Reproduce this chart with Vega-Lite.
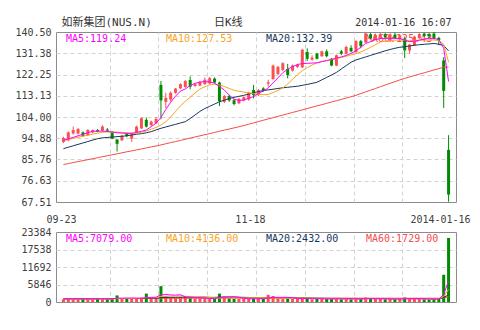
{
  "$schema": "https://vega.github.io/schema/vega-lite/v6.json",
  "background": "white",
  "padding": {"left": 14, "top": 15, "right": 5, "bottom": 5},
  "bounds": "flush",
  "spacing": 30,
  "config": {
    "view": {"stroke": "#8c8c8c", "strokeWidth": 1},
    "axis": {"domain": false, "ticks": false, "title": null, "labelFont": "DejaVu Sans Mono, Noto Sans CJK SC", "labelFontSize": 10, "labelColor": "#404040", "gridColor": "#d2d2d2", "gridDash": [4, 3], "labelOverlap": false, "labelBound": false},
    "text": {"font": "DejaVu Sans Mono"}
  },
  "resolve": {"scale": {"x": "independent", "y": "independent"}},
  "datasets": {
    "leg": [
      {"s": "m5", "t": "MA5:119.24"},
      {"s": "m10", "t": "MA10:127.53"},
      {"s": "m20", "t": "MA20:132.39"},
      {"s": "m60", "t": "MA60:125.43"}
    ],
    "vleg": [
      {"s": "v5", "t": "MA5:7079.00"},
      {"s": "v10", "t": "MA10:4136.00"},
      {"s": "v20", "t": "MA20:2432.00"},
      {"s": "v60", "t": "MA60:1729.00"}
    ],
    "k": [
      {"i":0,"o":93.3,"c":95.0,"h":95.5,"l":92.8,"v":900,"m5":93.95,"m10":93.87,"m20":90.41,"m60":83.60,"v5":950,"v10":1000,"v20":1100,"v60":1150},
      {"i":1,"o":94.0,"c":97.4,"h":97.8,"l":93.5,"v":1100,"m5":94.61,"m10":94.35,"m20":91.03,"m60":84.01,"v5":1000,"v10":1010,"v20":1105,"v60":1150},
      {"i":2,"o":96.9,"c":98.4,"h":99.9,"l":96.5,"v":800,"m5":95.27,"m10":94.79,"m20":91.64,"m60":84.43,"v5":980,"v10":1000,"v20":1110,"v60":1150},
      {"i":3,"o":96.9,"c":98.9,"h":99.2,"l":96.5,"v":900,"m5":95.92,"m10":95.27,"m20":92.25,"m60":84.86,"v5":1000,"v10":990,"v20":1110,"v60":1148},
      {"i":4,"o":97.4,"c":95.9,"h":97.8,"l":95.5,"v":1300,"m5":96.58,"m10":95.75,"m20":92.86,"m60":85.26,"v5":1000,"v10":1000,"v20":1120,"v60":1148},
      {"i":5,"o":96.2,"c":98.4,"h":98.7,"l":95.8,"v":1000,"m5":97.23,"m10":96.18,"m20":93.47,"m60":85.69,"v5":1020,"v10":1010,"v20":1120,"v60":1150},
      {"i":6,"o":97.4,"c":98.4,"h":98.6,"l":97.0,"v":900,"m5":97.89,"m10":96.62,"m20":94.09,"m60":86.09,"v5":980,"v10":1000,"v20":1125,"v60":1150},
      {"i":7,"o":98.4,"c":97.8,"h":98.8,"l":97.5,"v":1000,"m5":97.93,"m10":97.06,"m20":94.70,"m60":86.52,"v5":1040,"v10":1020,"v20":1125,"v60":1152},
      {"i":8,"o":98.1,"c":99.9,"h":100.5,"l":97.8,"v":1100,"m5":97.93,"m10":97.45,"m20":95.05,"m60":86.96,"v5":1060,"v10":1030,"v20":1130,"v60":1152},
      {"i":9,"o":98.6,"c":98.1,"h":99.3,"l":97.4,"v":900,"m5":97.80,"m10":97.63,"m20":95.22,"m60":87.35,"v5":980,"v10":1000,"v20":1130,"v60":1150},
      {"i":10,"o":97.4,"c":94.7,"h":98.0,"l":94.5,"v":1300,"m5":97.58,"m10":97.54,"m20":95.40,"m60":87.79,"v5":1040,"v10":1020,"v20":1135,"v60":1155},
      {"i":11,"o":94.3,"c":92.5,"h":94.6,"l":89.2,"v":2200,"m5":97.23,"m10":97.50,"m20":95.57,"m60":88.18,"v5":1300,"v10":1140,"v20":1170,"v60":1160},
      {"i":12,"o":94.0,"c":95.9,"h":96.3,"l":93.7,"v":1100,"m5":97.10,"m10":97.36,"m20":95.75,"m60":88.62,"v5":1300,"v10":1150,"v20":1170,"v60":1160},
      {"i":13,"o":96.9,"c":95.9,"h":97.3,"l":95.3,"v":1000,"m5":96.97,"m10":97.23,"m20":95.92,"m60":89.06,"v5":1320,"v10":1160,"v20":1175,"v60":1162},
      {"i":14,"o":94.7,"c":96.9,"h":97.2,"l":93.3,"v":1100,"m5":96.97,"m10":97.10,"m20":96.27,"m60":89.45,"v5":1340,"v10":1160,"v20":1180,"v60":1165},
      {"i":15,"o":97.2,"c":99.9,"h":100.3,"l":97.0,"v":1200,"m5":97.41,"m10":97.06,"m20":96.58,"m60":89.89,"v5":1320,"v10":1180,"v20":1185,"v60":1168},
      {"i":16,"o":99.1,"c":103.5,"h":103.8,"l":98.9,"v":1500,"m5":97.89,"m10":97.45,"m20":96.88,"m60":90.28,"v5":1180,"v10":1260,"v20":1200,"v60":1170},
      {"i":17,"o":102.8,"c":99.9,"h":103.8,"l":99.5,"v":2800,"m5":98.41,"m10":98.02,"m20":97.23,"m60":90.72,"v5":1520,"v10":1420,"v20":1260,"v60":1180},
      {"i":18,"o":100.6,"c":102.0,"h":102.5,"l":100.0,"v":1200,"m5":99.86,"m10":98.76,"m20":97.71,"m60":91.16,"v5":1560,"v10":1440,"v20":1270,"v60":1182},
      {"i":19,"o":101.3,"c":103.2,"h":104.0,"l":101.0,"v":1300,"m5":101.38,"m10":99.51,"m20":98.46,"m60":91.55,"v5":1600,"v10":1460,"v20":1290,"v60":1185},
      {"i":20,"o":117.8,"c":111.1,"h":119.5,"l":103.0,"v":5300,"m5":103.79,"m10":100.51,"m20":99.16,"m60":92.03,"v5":2420,"v10":1870,"v20":1480,"v60":1220},
      {"i":21,"o":110.5,"c":112.2,"h":114.4,"l":107.8,"v":2000,"m5":107.29,"m10":102.04,"m20":99.72,"m60":92.51,"v5":2520,"v10":1920,"v20":1520,"v60":1230},
      {"i":22,"o":111.5,"c":114.4,"h":115.0,"l":110.5,"v":1600,"m5":110.35,"m10":104.01,"m20":100.29,"m60":92.99,"v5":2360,"v10":1960,"v20":1550,"v60":1235},
      {"i":23,"o":114.4,"c":116.2,"h":116.5,"l":114.0,"v":1500,"m5":112.97,"m10":106.41,"m20":100.86,"m60":93.47,"v5":2300,"v10":1960,"v20":1570,"v60":1240},
      {"i":24,"o":116.3,"c":118.1,"h":118.5,"l":116.0,"v":1700,"m5":115.15,"m10":108.82,"m20":101.43,"m60":93.95,"v5":2420,"v10":2020,"v20":1600,"v60":1248},
      {"i":25,"o":116.9,"c":119.5,"h":119.8,"l":116.5,"v":1800,"m5":116.03,"m10":110.78,"m20":102.00,"m60":94.43,"v5":1720,"v10":1880,"v20":1610,"v60":1255},
      {"i":26,"o":119.9,"c":117.0,"h":121.4,"l":115.9,"v":1300,"m5":117.56,"m10":112.53,"m20":103.35,"m60":94.96,"v5":1620,"v10":1860,"v20":1620,"v60":1258},
      {"i":27,"o":117.3,"c":118.1,"h":118.5,"l":117.0,"v":1100,"m5":118.43,"m10":114.28,"m20":104.88,"m60":95.44,"v5":1480,"v10":1680,"v20":1620,"v60":1260},
      {"i":28,"o":117.5,"c":119.1,"h":119.4,"l":117.2,"v":1200,"m5":119.00,"m10":116.03,"m20":106.41,"m60":95.92,"v5":1420,"v10":1660,"v20":1630,"v60":1262},
      {"i":29,"o":118.1,"c":120.0,"h":121.0,"l":117.8,"v":1200,"m5":119.18,"m10":116.99,"m20":107.64,"m60":96.40,"v5":1320,"v10":1660,"v20":1640,"v60":1265},
      {"i":30,"o":118.4,"c":120.7,"h":121.2,"l":118.0,"v":1200,"m5":119.09,"m10":117.78,"m20":108.60,"m60":96.88,"v5":1200,"v10":1460,"v20":1560,"v60":1268},
      {"i":31,"o":120.5,"c":118.8,"h":121.0,"l":118.3,"v":1000,"m5":118.52,"m10":118.08,"m20":109.56,"m60":97.36,"v5":1140,"v10":1380,"v20":1550,"v60":1268},
      {"i":32,"o":118.8,"c":110.8,"h":119.2,"l":108.7,"v":2800,"m5":117.12,"m10":117.78,"m20":110.56,"m60":97.89,"v5":1480,"v10":1380,"v20":1640,"v60":1290},
      {"i":33,"o":110.5,"c":113.0,"h":113.5,"l":110.0,"v":1800,"m5":115.59,"m10":117.12,"m20":111.22,"m60":98.37,"v5":1600,"v10":1410,"v20":1660,"v60":1300},
      {"i":34,"o":113.0,"c":111.1,"h":113.5,"l":110.5,"v":1200,"m5":113.40,"m10":116.25,"m20":111.96,"m60":98.85,"v5":1720,"v10":1380,"v20":1650,"v60":1302},
      {"i":35,"o":111.2,"c":109.6,"h":111.8,"l":109.0,"v":1000,"m5":111.66,"m10":115.46,"m20":112.44,"m60":99.33,"v5":1760,"v10":1360,"v20":1640,"v60":1300},
      {"i":36,"o":109.9,"c":111.8,"h":112.2,"l":109.5,"v":1000,"m5":111.09,"m10":115.07,"m20":112.88,"m60":99.81,"v5":1560,"v10":1350,"v20":1600,"v60":1298},
      {"i":37,"o":111.1,"c":112.5,"h":112.9,"l":110.8,"v":1100,"m5":111.31,"m10":114.72,"m20":113.32,"m60":100.34,"v5":1220,"v10":1350,"v20":1560,"v60":1296},
      {"i":38,"o":111.5,"c":114.4,"h":114.8,"l":111.0,"v":1100,"m5":112.09,"m10":114.37,"m20":113.80,"m60":100.90,"v5":1080,"v10":1400,"v20":1520,"v60":1296},
      {"i":39,"o":115.6,"c":113.4,"h":117.8,"l":112.0,"v":1200,"m5":112.75,"m10":114.06,"m20":114.37,"m60":101.47,"v5":1080,"v10":1420,"v20":1460,"v60":1295},
      {"i":40,"o":113.4,"c":115.5,"h":116.0,"l":113.0,"v":1200,"m5":114.15,"m10":113.75,"m20":114.94,"m60":102.04,"v5":1120,"v10":1440,"v20":1410,"v60":1295},
      {"i":41,"o":116.3,"c":115.3,"h":116.8,"l":114.8,"v":1000,"m5":115.15,"m10":113.58,"m20":115.33,"m60":102.61,"v5":1120,"v10":1440,"v20":1400,"v60":1292},
      {"i":42,"o":118.3,"c":118.9,"h":120.0,"l":117.0,"v":2400,"m5":116.47,"m10":113.67,"m20":115.64,"m60":103.18,"v5":1380,"v10":1400,"v20":1440,"v60":1310},
      {"i":43,"o":120.3,"c":126.1,"h":126.5,"l":120.0,"v":2000,"m5":118.65,"m10":114.50,"m20":115.94,"m60":103.70,"v5":1560,"v10":1390,"v20":1460,"v60":1320},
      {"i":44,"o":122.5,"c":125.5,"h":126.0,"l":122.0,"v":1200,"m5":120.84,"m10":115.37,"m20":116.25,"m60":104.27,"v5":1560,"v10":1340,"v20":1450,"v60":1318},
      {"i":45,"o":124.2,"c":127.1,"h":127.5,"l":123.8,"v":1100,"m5":123.02,"m10":116.47,"m20":116.55,"m60":104.84,"v5":1560,"v10":1340,"v20":1440,"v60":1316},
      {"i":46,"o":124.6,"c":122.0,"h":126.8,"l":120.6,"v":1100,"m5":124.55,"m10":118.21,"m20":116.77,"m60":105.41,"v5":1540,"v10":1330,"v20":1430,"v60":1314},
      {"i":47,"o":123.9,"c":126.1,"h":126.5,"l":123.5,"v":1000,"m5":125.64,"m10":120.18,"m20":116.99,"m60":105.97,"v5":1480,"v10":1330,"v20":1420,"v60":1310},
      {"i":48,"o":125.5,"c":126.5,"h":126.9,"l":125.0,"v":1100,"m5":126.52,"m10":122.15,"m20":117.21,"m60":106.50,"v5":1100,"v10":1330,"v20":1400,"v60":1308},
      {"i":49,"o":125.3,"c":132.9,"h":133.3,"l":125.0,"v":1400,"m5":126.96,"m10":123.90,"m20":117.60,"m60":107.07,"v5":1140,"v10":1360,"v20":1400,"v60":1310},
      {"i":50,"o":131.9,"c":129.0,"h":133.5,"l":128.0,"v":1200,"m5":127.04,"m10":125.21,"m20":117.99,"m60":107.64,"v5":1160,"v10":1370,"v20":1380,"v60":1308},
      {"i":51,"o":128.6,"c":129.5,"h":130.5,"l":128.2,"v":900,"m5":127.17,"m10":126.30,"m20":118.43,"m60":108.20,"v5":1120,"v10":1320,"v20":1300,"v60":1300},
      {"i":52,"o":131.2,"c":129.0,"h":131.6,"l":128.7,"v":1000,"m5":127.26,"m10":127.26,"m20":118.91,"m60":108.77,"v5":1120,"v10":1180,"v20":1250,"v60":1298},
      {"i":53,"o":130.1,"c":132.2,"h":132.5,"l":129.8,"v":1000,"m5":127.83,"m10":127.74,"m20":119.96,"m60":109.30,"v5":1100,"v10":1150,"v20":1230,"v60":1296},
      {"i":54,"o":132.2,"c":130.1,"h":133.0,"l":129.6,"v":1000,"m5":128.27,"m10":128.18,"m20":121.01,"m60":109.87,"v5":1020,"v10":1130,"v20":1210,"v60":1294},
      {"i":55,"o":129.0,"c":126.1,"h":129.3,"l":125.8,"v":1100,"m5":128.70,"m10":128.62,"m20":122.06,"m60":110.43,"v5":1020,"v10":1110,"v20":1200,"v60":1292},
      {"i":56,"o":126.1,"c":130.5,"h":130.8,"l":125.8,"v":1200,"m5":129.27,"m10":129.05,"m20":123.15,"m60":111.00,"v5":1060,"v10":1100,"v20":1190,"v60":1290},
      {"i":57,"o":132.2,"c":131.2,"h":132.8,"l":130.5,"v":900,"m5":129.80,"m10":129.58,"m20":124.64,"m60":111.57,"v5":1040,"v10":1070,"v20":1180,"v60":1288},
      {"i":58,"o":131.2,"c":134.1,"h":134.6,"l":130.9,"v":1100,"m5":130.45,"m10":130.10,"m20":126.08,"m60":112.14,"v5":1060,"v10":1040,"v20":1160,"v60":1285},
      {"i":59,"o":133.7,"c":132.2,"h":134.8,"l":131.8,"v":900,"m5":131.33,"m10":130.67,"m20":127.52,"m60":112.71,"v5":1040,"v10":1030,"v20":1150,"v60":1282},
      {"i":60,"o":131.9,"c":136.6,"h":137.0,"l":131.5,"v":1100,"m5":132.42,"m10":131.20,"m20":128.49,"m60":113.32,"v5":1060,"v10":1030,"v20":1140,"v60":1280},
      {"i":61,"o":136.6,"c":134.4,"h":137.0,"l":133.5,"v":1000,"m5":133.95,"m10":131.98,"m20":129.14,"m60":114.06,"v5":1020,"v10":1040,"v20":1120,"v60":1278},
      {"i":62,"o":136.0,"c":139.9,"h":140.2,"l":135.8,"v":1500,"m5":135.57,"m10":132.86,"m20":129.80,"m60":114.81,"v5":1120,"v10":1070,"v20":1150,"v60":1280},
      {"i":63,"o":139.5,"c":137.8,"h":140.0,"l":137.3,"v":1100,"m5":136.35,"m10":133.95,"m20":130.45,"m60":115.50,"v5":1120,"v10":1090,"v20":1140,"v60":1278},
      {"i":64,"o":137.5,"c":139.2,"h":139.8,"l":137.0,"v":1000,"m5":137.23,"m10":135.04,"m20":131.11,"m60":116.25,"v5":1140,"v10":1100,"v20":1130,"v60":1276},
      {"i":65,"o":138.0,"c":139.6,"h":140.1,"l":137.6,"v":1100,"m5":137.67,"m10":136.13,"m20":131.76,"m60":116.99,"v5":1140,"v10":1100,"v20":1120,"v60":1275},
      {"i":66,"o":139.6,"c":138.3,"h":140.0,"l":137.8,"v":900,"m5":137.76,"m10":136.57,"m20":132.42,"m60":117.73,"v5":1120,"v10":1090,"v20":1110,"v60":1272},
      {"i":67,"o":136.5,"c":139.5,"h":139.9,"l":136.2,"v":1100,"m5":137.76,"m10":136.92,"m20":132.99,"m60":118.43,"v5":1040,"v10":1100,"v20":1100,"v60":1270},
      {"i":68,"o":139.4,"c":137.9,"h":140.2,"l":137.5,"v":900,"m5":137.76,"m10":137.01,"m20":133.51,"m60":119.18,"v5":1000,"v10":1090,"v20":1090,"v60":1268},
      {"i":69,"o":137.5,"c":139.0,"h":139.5,"l":137.0,"v":1000,"m5":137.67,"m10":137.01,"m20":133.95,"m60":119.92,"v5":1000,"v10":1100,"v20":1090,"v60":1266},
      {"i":70,"o":137.7,"c":132.6,"h":138.5,"l":129.3,"v":1500,"m5":137.01,"m10":137.01,"m20":134.17,"m60":120.58,"v5":1100,"v10":1100,"v20":1110,"v60":1270},
      {"i":71,"o":132.6,"c":135.1,"h":135.4,"l":131.2,"v":1200,"m5":136.35,"m10":136.92,"m20":134.47,"m60":121.19,"v5":1140,"v10":1120,"v20":1110,"v60":1268},
      {"i":72,"o":134.8,"c":138.5,"h":138.9,"l":134.5,"v":1100,"m5":136.57,"m10":136.92,"m20":134.82,"m60":121.80,"v5":1140,"v10":1080,"v20":1100,"v60":1266},
      {"i":73,"o":137.9,"c":139.6,"h":140.0,"l":137.5,"v":1000,"m5":137.01,"m10":136.92,"m20":135.04,"m60":122.41,"v5":1160,"v10":1070,"v20":1100,"v60":1264},
      {"i":74,"o":139.8,"c":138.8,"h":140.2,"l":138.3,"v":900,"m5":137.53,"m10":137.01,"m20":135.22,"m60":122.98,"v5":1140,"v10":1070,"v20":1090,"v60":1262},
      {"i":75,"o":139.6,"c":138.6,"h":140.1,"l":138.0,"v":800,"m5":137.76,"m10":137.10,"m20":135.39,"m60":123.59,"v5":1000,"v10":1050,"v20":1080,"v60":1260},
      {"i":76,"o":139.8,"c":137.7,"h":140.5,"l":137.2,"v":900,"m5":137.76,"m10":137.10,"m20":135.57,"m60":124.20,"v5":960,"v10":1050,"v20":1080,"v60":1258},
      {"i":77,"o":138.0,"c":137.0,"h":138.4,"l":134.8,"v":1000,"m5":137.23,"m10":136.79,"m20":135.26,"m60":124.77,"v5":940,"v10":1060,"v20":1080,"v60":1256},
      {"i":78,"o":128.3,"c":115.2,"h":129.7,"l":107.9,"v":9100,"m5":133.51,"m10":135.26,"m20":134.69,"m60":125.38,"v5":2560,"v10":1860,"v20":1480,"v60":1400},
      {"i":79,"o":89.9,"c":70.7,"h":96.2,"l":67.6,"v":21400,"m5":119.24,"m10":127.53,"m20":132.39,"m60":125.43,"v5":7079,"v10":4136,"v20":2432,"v60":1729}
    ]
  },
  "vconcat": [
    {
      "width": 400,
      "height": 170,
      "resolve": {"scale": {"x": "independent"}},
      "layer": [
        {
          "data": {"name": "leg"},
          "mark": {"type": "text", "align": "left", "baseline": "top", "dx": 10, "dy": 2, "font": "DejaVu Sans Mono", "fontSize": 10},
          "encoding": {
            "x": {"field": "s", "type": "nominal", "bandPosition": 0, "scale": {"type": "band", "domain": ["m5", "m10", "m20", "m60"], "paddingInner": 0, "paddingOuter": 0}, "axis": null},
            "y": {"datum": 140.5, "type": "quantitative", "scale": {"domain": [67.51, 140.5], "nice": false, "zero": false},
              "axis": {"values": [67.51, 76.63, 85.76, 94.88, 104.0, 113.13, 122.25, 131.38, 140.5], "format": ".2f", "labelPadding": 5, "grid": true,
                "gridOpacity": {"condition": {"test": "datum.value > 68 && datum.value < 140", "value": 1}, "value": 0}}},
            "text": {"field": "t", "type": "nominal"},
            "color": {"field": "s", "type": "nominal", "legend": null, "scale": {"domain": ["m5", "m10", "m20", "m60", "v5", "v10", "v20", "v60"], "range": ["#ff00ff", "#f8a51c", "#17375e", "#f44d4d", "#ff00ff", "#f8a51c", "#17375e", "#f44d4d"]}}
          }
        },
        {
          "data": {"name": "k"},
          "encoding": {
            "x": {"field": "i", "type": "quantitative", "scale": {"domain": [-0.5, 79.5], "nice": false, "zero": false},
              "axis": {"orient": "top", "values": [-0.5, 9.5, 19.5, 29.5, 33.7, 39.5, 49.5, 59.5, 69.5, 79.5],
                "labelExpr": "datum.value < 0 ? '如新集团(NUS.N)' : datum.value > 79 ? '2014-01-16 16:07' : (datum.value > 33 && datum.value < 34) ? '日K线' : ''",
                "labelFlush": false, "labelPadding": 5, "labelColor": "#333333",
                "labelAlign": {"condition": [{"test": "datum.value < 0", "value": "left"}, {"test": "datum.value > 79", "value": "right"}], "value": "center"},
                "labelFontSize": {"condition": {"test": "datum.value < 78", "value": 11}, "value": 10},
                "grid": true, "gridOpacity": {"condition": {"test": "datum.value % 10 == 9.5 && datum.value < 79", "value": 1}, "value": 0}}}
          },
          "layer": [
            {
              "mark": {"type": "rule", "strokeWidth": 1},
              "encoding": {
                "y": {"field": "l", "type": "quantitative", "scale": {"domain": [67.51, 140.5], "nice": false, "zero": false},
                  "axis": {"values": [67.51, 76.63, 85.76, 94.88, 104.0, 113.13, 122.25, 131.38, 140.5], "format": ".2f", "labelPadding": 5, "grid": true,
                    "gridOpacity": {"condition": {"test": "datum.value > 68 && datum.value < 140", "value": 1}, "value": 0}}},
                "y2": {"field": "h"},
                "color": {"condition": {"test": "datum.c >= datum.o", "value": "#fa5050"}, "value": "#008c00"}
              }
            },
            {
              "mark": {"type": "bar", "width": 3},
              "encoding": {
                "y": {"field": "o", "type": "quantitative", "scale": {"domain": [67.51, 140.5], "nice": false, "zero": false},
                  "axis": {"values": [67.51, 76.63, 85.76, 94.88, 104.0, 113.13, 122.25, 131.38, 140.5], "format": ".2f", "labelPadding": 5, "grid": true,
                    "gridOpacity": {"condition": {"test": "datum.value > 68 && datum.value < 140", "value": 1}, "value": 0}}},
                "y2": {"field": "c"},
                "color": {"condition": {"test": "datum.c >= datum.o", "value": "#fa5050"}, "value": "#008c00"}
              }
            },
            {
              "transform": [{"fold": ["m60", "m20", "m10", "m5"], "as": ["s", "val"]}],
              "mark": {"type": "line", "strokeWidth": 1},
              "encoding": {
                "y": {"field": "val", "type": "quantitative", "scale": {"domain": [67.51, 140.5], "nice": false, "zero": false},
                  "axis": {"values": [67.51, 76.63, 85.76, 94.88, 104.0, 113.13, 122.25, 131.38, 140.5], "format": ".2f", "labelPadding": 5, "grid": true,
                    "gridOpacity": {"condition": {"test": "datum.value > 68 && datum.value < 140", "value": 1}, "value": 0}}},
                "color": {"field": "s", "type": "nominal", "legend": null, "scale": {"domain": ["m5", "m10", "m20", "m60", "v5", "v10", "v20", "v60"], "range": ["#ff00ff", "#f8a51c", "#17375e", "#f44d4d", "#ff00ff", "#f8a51c", "#17375e", "#f44d4d"]}}
              }
            }
          ]
        }
      ]
    },
    {
      "width": 400,
      "height": 70,
      "resolve": {"scale": {"x": "independent"}},
      "layer": [
        {
          "data": {"name": "vleg"},
          "mark": {"type": "text", "align": "left", "baseline": "top", "dx": 10, "dy": 2, "font": "DejaVu Sans Mono", "fontSize": 10},
          "encoding": {
            "x": {"field": "s", "type": "nominal", "bandPosition": 0, "scale": {"type": "band", "domain": ["v5", "v10", "v20", "v60"], "paddingInner": 0, "paddingOuter": 0}, "axis": null},
            "y": {"datum": 23384, "type": "quantitative", "scale": {"domain": [0, 23384], "nice": false},
              "axis": {"values": [0, 5846, 11692, 17538, 23384], "format": "d", "labelPadding": 5, "grid": true,
                "gridOpacity": {"condition": {"test": "datum.value > 0 && datum.value < 23000", "value": 1}, "value": 0}}},
            "text": {"field": "t", "type": "nominal"},
            "color": {"field": "s", "type": "nominal", "legend": null, "scale": {"domain": ["m5", "m10", "m20", "m60", "v5", "v10", "v20", "v60"], "range": ["#ff00ff", "#f8a51c", "#17375e", "#f44d4d", "#ff00ff", "#f8a51c", "#17375e", "#f44d4d"]}}
          }
        },
        {
          "data": {"name": "k"},
          "encoding": {
            "x": {"field": "i", "type": "quantitative", "scale": {"domain": [-0.5, 79.5], "nice": false, "zero": false},
              "axis": {"orient": "top", "values": [-0.5, 9.5, 19.5, 29.5, 38.25, 39.5, 49.5, 59.5, 69.5, 77.25],
                "labelExpr": "datum.value < 0 ? '09-23' : (datum.value > 38 && datum.value < 39) ? '11-18' : (datum.value > 77 && datum.value < 78) ? '2014-01-16' : ''",
                "labelFlush": false, "labelPadding": 8,
                "grid": true, "gridOpacity": {"condition": {"test": "datum.value % 10 == 9.5 && datum.value < 79", "value": 1}, "value": 0}}}
          },
          "layer": [
            {
              "mark": {"type": "bar", "width": 3},
              "encoding": {
                "y": {"field": "v", "type": "quantitative", "scale": {"domain": [0, 23384], "nice": false},
                  "axis": {"values": [0, 5846, 11692, 17538, 23384], "format": "d", "labelPadding": 5, "grid": true,
                    "gridOpacity": {"condition": {"test": "datum.value > 0 && datum.value < 23000", "value": 1}, "value": 0}}},
                "color": {"condition": {"test": "datum.c >= datum.o", "value": "#fa5050"}, "value": "#008c00"}
              }
            },
            {
              "transform": [{"fold": ["v60", "v20", "v10", "v5"], "as": ["s", "val"]}],
              "mark": {"type": "line", "strokeWidth": 1},
              "encoding": {
                "y": {"field": "val", "type": "quantitative", "scale": {"domain": [0, 23384], "nice": false},
                  "axis": {"values": [0, 5846, 11692, 17538, 23384], "format": "d", "labelPadding": 5, "grid": true,
                    "gridOpacity": {"condition": {"test": "datum.value > 0 && datum.value < 23000", "value": 1}, "value": 0}}},
                "color": {"field": "s", "type": "nominal", "legend": null, "scale": {"domain": ["m5", "m10", "m20", "m60", "v5", "v10", "v20", "v60"], "range": ["#ff00ff", "#f8a51c", "#17375e", "#f44d4d", "#ff00ff", "#f8a51c", "#17375e", "#f44d4d"]}}
              }
            }
          ]
        }
      ]
    }
  ]
}
